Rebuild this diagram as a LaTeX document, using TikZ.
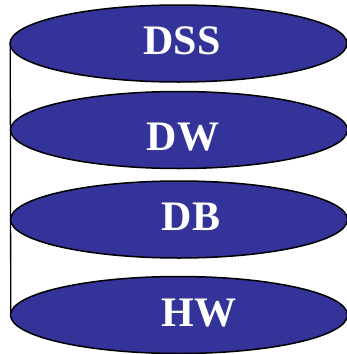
\documentclass[tikz,border=0pt]{standalone}
\usepackage{fontspec}
\setmainfont{Liberation Serif}
\usetikzlibrary{shapes.geometric}
\pgfdeclarelayer{background}
\pgfsetlayers{background,main}
\definecolor{layerblue}{HTML}{333399}
\tikzset{
  layer/.style={ellipse, draw=black, line width=1.5pt, fill=layerblue,
    minimum width=337pt, minimum height=77pt, inner sep=0pt},
  layertext/.style={text=white, font=\bfseries\fontsize{42}{42}\selectfont, inner sep=0pt},
  wall/.style={draw=black, line width=1.3pt}
}
\begin{document}
\begin{tikzpicture}[x=1pt, y=-1pt]
  \useasboundingbox (0,0) rectangle (347,354);
  % stacked layers
  \node[layer] (dss) at (178.5,43.5) {};
  \node[layer] (dw)  at (179,130) {};
  \node[layer] (db)  at (179,219.5) {};
  \node[layer] (hw)  at (179,315) {};
  % side wall of the stack, behind the layers
  \begin{pgfonlayer}{background}
    \draw[wall] ([xshift=1pt]dss.west) -- ([xshift=1pt]hw.west);
  \end{pgfonlayer}
  % layer captions
  \node[layertext] (tdss) at (182,41) {DSS};
  \node[layertext] (tdw)  at (183,137) {DW};
  \node[layertext] (tdb)  at (191,217) {DB};
  \node[layertext] (thw)  at (199,313) {HW};
\end{tikzpicture}
\end{document}
